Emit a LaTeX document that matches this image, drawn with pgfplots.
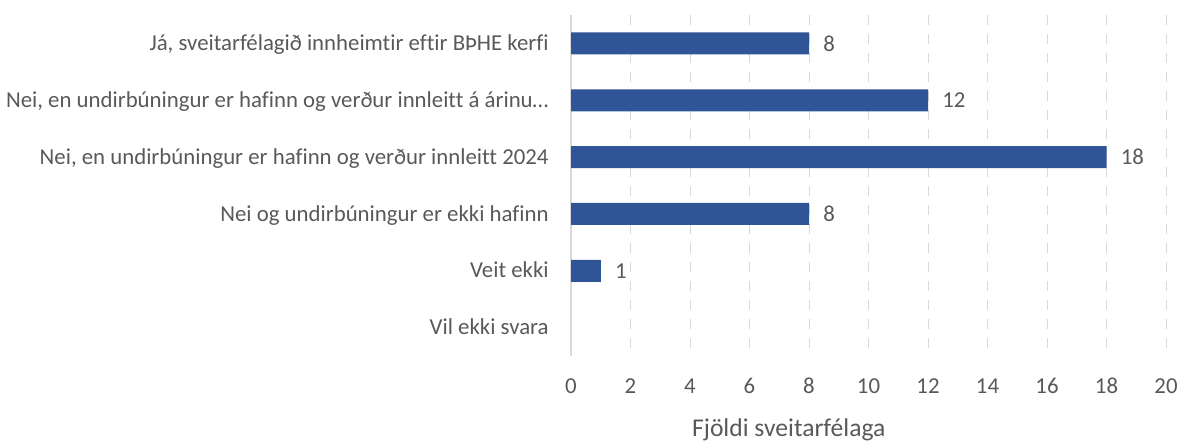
\documentclass[border=0pt]{standalone}
\usepackage{fontspec}
\setmainfont{Carlito}[Ligatures={NoCommon}]
\usepackage{pgfplots}
\pgfplotsset{compat=1.18}
\definecolor{barblue}{HTML}{2F5597}
\definecolor{txt}{HTML}{595959}
\definecolor{gridc}{HTML}{D9D9D9}
\begin{document}
\begin{tikzpicture}
\useasboundingbox (0,0) rectangle (591pt,220.5pt);
\begin{axis}[
  at={(285.5pt,42.5pt)}, anchor=south west,
  scale only axis, width=297.5pt, height=170.5pt,
  xbar, bar width=11pt,
  xmin=0, xmax=20, ymin=-0.5, ymax=5.5, y dir=reverse,
  axis line style={draw=none},
  xtick={2,4,...,20}, extra x ticks={0},
  extra x tick style={grid style={solid, draw=gridc, line width=0.6pt}},
  ytick={0,...,5},
  yticklabels={{Já, sveitarfélagið innheimtir eftir BÞHE kerfi},
    {Nei, en undirbúningur er hafinn og verður innleitt á árinu…},
    {Nei, en undirbúningur er hafinn og verður innleitt 2024},
    {Nei og undirbúningur er ekki hafinn},
    {Veit ekki},
    {Vil ekki svara}},
  major tick length=0pt,
  xmajorgrids,
  grid style={draw=gridc, line width=0.5pt, dash pattern=on 5pt off 4.5pt},
  tick label style={font=\fontsize{11.4}{13}\selectfont, text=txt},
  xticklabel style={anchor=center, inner sep=0pt, yshift=-15pt},
  yticklabel style={anchor=base east, inner sep=0pt, xshift=-11pt, yshift=-3.6pt},
  /pgf/number format/assume math mode=true,
  xlabel={Fjöldi sveitarfélaga},
  xlabel style={at={(axis description cs:0.366,0)}, anchor=center, inner sep=0pt, yshift=-36.8pt, font=\fontsize{12.8}{15}\selectfont, text=txt},
  nodes near coords,
  nodes near coords style={anchor=west, inner sep=0pt, xshift=7pt, font=\fontsize{11.4}{13}\selectfont, text=txt},
]
\addplot[fill=barblue, draw=none] coordinates {(8,0) (12,1) (18,2) (8,3) (1,4)};
\end{axis}
\end{tikzpicture}
\end{document}
